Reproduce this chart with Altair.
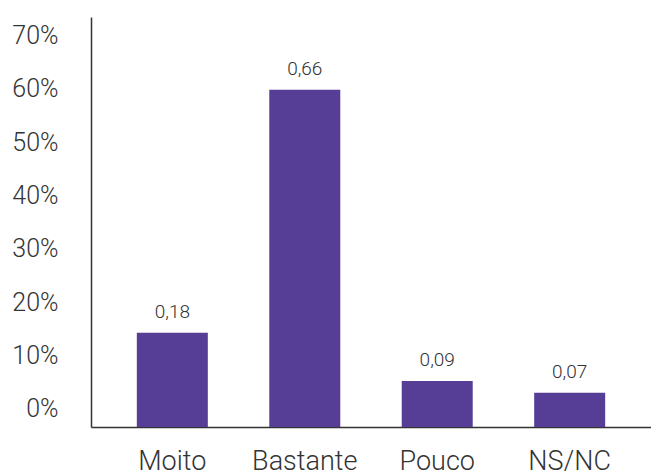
import altair as alt
import pandas as pd

categories = ["Moito", "Bastante", "Pouco", "NS/NC"]
values = [0.184, 0.658, 0.090, 0.067]
tick_values = [0.0, 0.1, 0.2, 0.3, 0.4, 0.5, 0.6, 0.7]

df = pd.DataFrame({"cat": categories, "value": values})
ticks_df = pd.DataFrame({"t": tick_values})

FONT = "Roboto"
BAR = "#563d95"
INK = "#333333"

x = alt.X(
    "cat:N", sort=categories, title=None,
    scale=alt.Scale(paddingInner=0.464, paddingOuter=0.346, align=0.5),
    axis=alt.Axis(labelAngle=0, labelFont=FONT, labelFontSize=27, labelFontWeight=300,
                  labelColor=INK, labelBaseline="alphabetic", labelPadding=42,
                  ticks=False, tickSize=0, domainColor=INK, domainWidth=1.5, grid=False),
)
y_bar = alt.Y("value:Q", scale=alt.Scale(domain=[0, 0.8], nice=False, zero=True), axis=None)

bars = alt.Chart(df).mark_bar(color=BAR).encode(x=x, y=y_bar)

labels = (
    alt.Chart(df)
    .transform_calculate(lbl="replace(format(datum.value, '.2f'), '.', ',')")
    .mark_text(font=FONT, fontSize=19, fontWeight=300, color=INK, baseline="alphabetic", dy=-15)
    .encode(x=x, y=y_bar, text="lbl:N")
)

ticks = (
    alt.Chart(ticks_df)
    .mark_point(opacity=0)
    .encode(
        y=alt.Y(
            "t:Q",
            scale=alt.Scale(domain=[-0.0347, 0.7352], nice=False, zero=False),
            axis=alt.Axis(orient="left", values=tick_values, format=".0%", title=None,
                          labelFont=FONT, labelFontSize=25, labelFontWeight=300, labelColor=INK,
                          labelPadding=33, ticks=False, tickSize=0, grid=False,
                          domainColor=INK, domainWidth=1.5),
        )
    )
)

chart = (
    alt.layer(bars, labels, ticks)
    .resolve_scale(y="independent")
    .properties(
        width=560, height=410,
        autosize=alt.AutoSizeParams(type="none"),
        padding={"left": 83, "top": 9, "right": 0, "bottom": 44},
    )
    .configure_view(stroke=None)
)

chart.save("out.html", embed_options={"renderer": "svg", "actions": False})
